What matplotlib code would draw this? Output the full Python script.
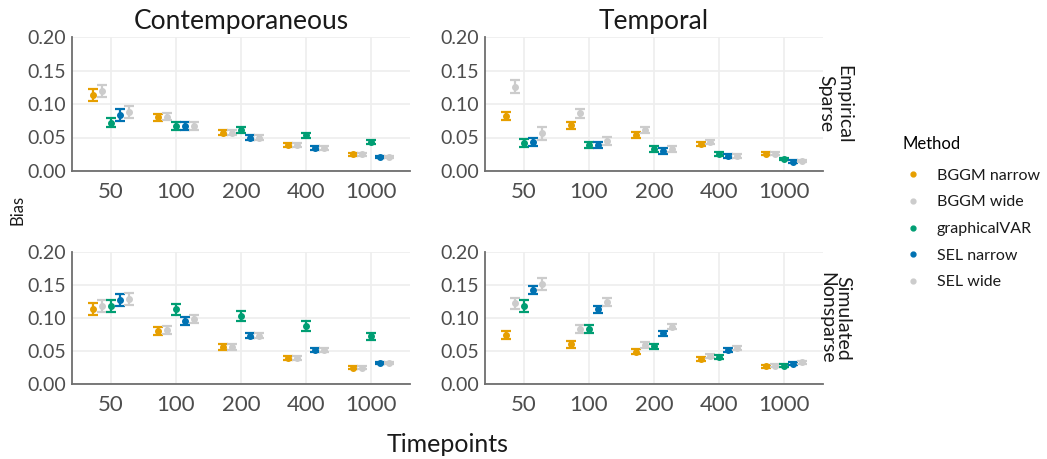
import numpy as np
import matplotlib
matplotlib.use('Agg')
import matplotlib.pyplot as plt
from matplotlib.lines import Line2D

plt.rcParams['font.family'] = ['Lato', 'DejaVu Sans']

# ──────────────────────────────────────────────────────────────────────
#  DATA
# ──────────────────────────────────────────────────────────────────────
timepoints = ['50', '100', '200', '400', '1000']
methods = ['BGGM narrow', 'BGGM wide', 'graphicalVAR', 'SEL narrow', 'SEL wide']
colors = ['#E69F00', '#CCCCCC', '#009E73', '#0072B2', '#CCCCCC']

col_titles = ['Contemporaneous', 'Temporal']
row_titles = ['Empirical\nSparse', 'Simulated\nNonsparse']

# mean bias, one row per method, columns = timepoints
cont_emp = [
    [0.114, 0.080, 0.057, 0.039, 0.025],
    [0.120, 0.081, 0.057, 0.039, 0.025],
    [0.072, 0.067, 0.061, 0.053, 0.043],
    [0.083, 0.067, 0.050, 0.035, 0.021],
    [0.088, 0.067, 0.050, 0.035, 0.021],
]
cont_emp_err = [
    [0.009, 0.005, 0.004, 0.003, 0.002],
    [0.009, 0.005, 0.004, 0.003, 0.002],
    [0.007, 0.006, 0.005, 0.004, 0.003],
    [0.009, 0.006, 0.004, 0.003, 0.002],
    [0.009, 0.006, 0.004, 0.003, 0.002],
]
temp_emp = [
    [0.082, 0.068, 0.054, 0.040, 0.026],
    [0.126, 0.086, 0.061, 0.043, 0.026],
    [0.042, 0.039, 0.033, 0.026, 0.018],
    [0.043, 0.039, 0.030, 0.022, 0.014],
    [0.056, 0.045, 0.033, 0.023, 0.015],
]
temp_emp_err = [
    [0.006, 0.005, 0.004, 0.003, 0.002],
    [0.010, 0.007, 0.005, 0.003, 0.002],
    [0.006, 0.005, 0.004, 0.003, 0.002],
    [0.006, 0.005, 0.004, 0.003, 0.002],
    [0.010, 0.006, 0.004, 0.003, 0.002],
]
cont_sim = [
    [0.113, 0.081, 0.056, 0.039, 0.025],
    [0.118, 0.082, 0.056, 0.039, 0.025],
    [0.118, 0.113, 0.103, 0.088, 0.072],
    [0.127, 0.096, 0.073, 0.052, 0.032],
    [0.129, 0.098, 0.073, 0.052, 0.032],
]
cont_sim_err = [
    [0.009, 0.006, 0.004, 0.003, 0.002],
    [0.009, 0.006, 0.004, 0.003, 0.002],
    [0.009, 0.008, 0.008, 0.007, 0.006],
    [0.009, 0.006, 0.004, 0.003, 0.002],
    [0.009, 0.006, 0.004, 0.003, 0.002],
]
temp_sim = [
    [0.074, 0.060, 0.049, 0.038, 0.027],
    [0.122, 0.084, 0.059, 0.042, 0.028],
    [0.118, 0.083, 0.057, 0.041, 0.028],
    [0.142, 0.113, 0.077, 0.051, 0.031],
    [0.151, 0.124, 0.087, 0.055, 0.033],
]
temp_sim_err = [
    [0.006, 0.005, 0.004, 0.003, 0.002],
    [0.009, 0.006, 0.004, 0.003, 0.002],
    [0.009, 0.006, 0.004, 0.003, 0.002],
    [0.006, 0.005, 0.004, 0.003, 0.002],
    [0.009, 0.006, 0.004, 0.003, 0.002],
]

# ──────────────────────────────────────────────────────────────────────
#  LAYOUT
# ──────────────────────────────────────────────────────────────────────
W, H = 1047, 459
fig = plt.figure(figsize=(W / 100, H / 100), dpi=100)

def px_axes(x0, y0, x1, y1):
    return fig.add_axes([x0 / W, 1 - y1 / H, (x1 - x0) / W, (y1 - y0) / H])

panels = [
    (px_axes(72, 37, 410, 171), cont_emp, cont_emp_err),
    (px_axes(485, 37, 823, 171), temp_emp, temp_emp_err),
    (px_axes(72, 252, 410, 384), cont_sim, cont_sim_err),
    (px_axes(485, 252, 823, 384), temp_sim, temp_sim_err),
]

dodge = 0.135
x = np.arange(len(timepoints))
axis_grey = '#6E6E6E'
text_grey = '#4D4D4D'

for i, (ax, vals, errs) in enumerate(panels):
    for m in range(len(methods)):
        xs = x + (m - 2) * dodge
        ax.errorbar(xs, vals[m], yerr=errs[m], fmt='o', color=colors[m],
                    ms=4, capsize=3.5, capthick=1.6, elinewidth=1.6, zorder=3)
    ax.set_xlim(-0.6, 4.6)
    ax.set_ylim(0, 0.2)
    ax.set_yticks([0, 0.05, 0.10, 0.15, 0.20])
    ax.set_yticklabels(['0.00', '0.05', '0.10', '0.15', '0.20'])
    ax.set_xticks(x)
    ax.set_xticklabels(timepoints)
    ax.grid(True, color='#EEEEEE', lw=1.2, zorder=0)
    ax.set_axisbelow(True)
    for s in ['top', 'right']:
        ax.spines[s].set_visible(False)
    for s in ['left', 'bottom']:
        ax.spines[s].set_color(axis_grey)
        ax.spines[s].set_linewidth(1.3)
    ax.tick_params(axis='both', length=0, colors=text_grey, labelsize=14)
    ax.tick_params(axis='x', labelsize=16, pad=8)
    ax.tick_params(axis='y', pad=4)
    if i < 2:
        ax.set_title(col_titles[i], fontsize=19, color='#1A1A1A', pad=6)
    if i % 2 == 1:
        ax.text(1.035, 0.5, row_titles[i // 2], transform=ax.transAxes,
                rotation=-90, ha='center', va='center', fontsize=14,
                color='#1A1A1A', linespacing=1.0)

fig.text(18 / W, 1 - 210 / H, 'Bias', rotation=90, ha='center', va='center',
         fontsize=12, color='#1A1A1A')
fig.text(448 / W, 1 - 444 / H, 'Timepoints', ha='center', va='center',
         fontsize=18, color='#1A1A1A')

handles = [Line2D([], [], ls='none', marker='o', ms=3.5, color=c) for c in colors]
leg = fig.legend(handles, methods, title='Method', loc='upper left',
                 bbox_to_anchor=(903 / W, 1 - 136 / H), frameon=False,
                 fontsize=11.5, title_fontsize=12, handlelength=1.2,
                 handletextpad=0.9, labelspacing=0.78, borderpad=0,
                 borderaxespad=0, alignment='left')
for t in leg.get_texts():
    t.set_color('#1A1A1A')
leg._legend_box.sep = 12

fig.savefig('out.png', dpi=100)
